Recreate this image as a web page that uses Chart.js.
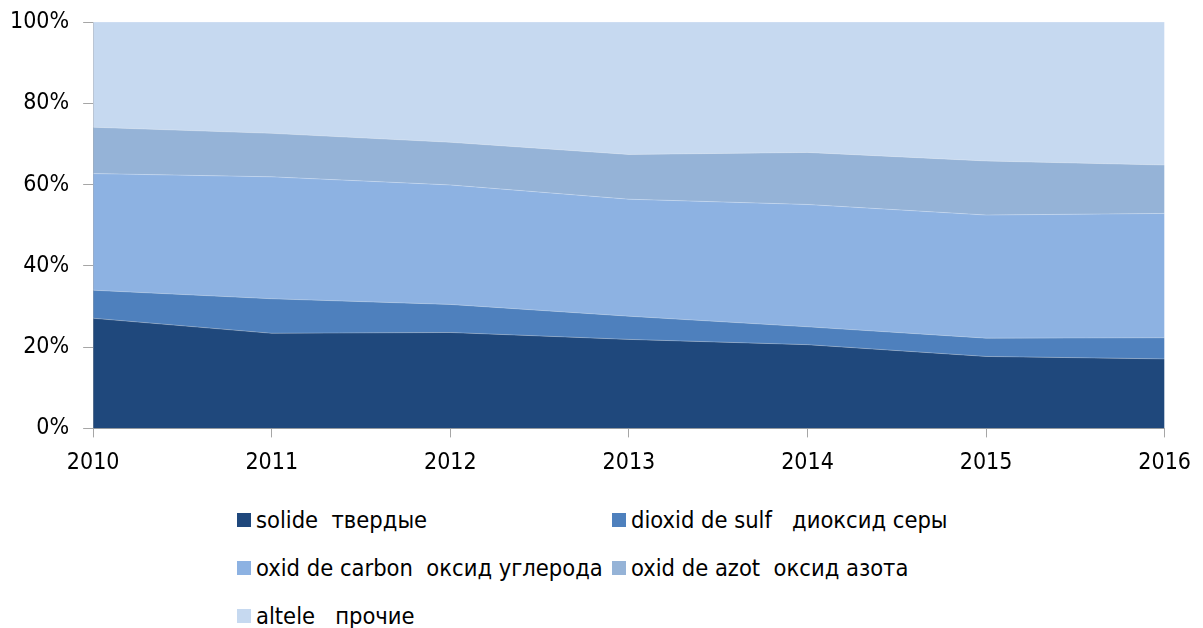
<!DOCTYPE html>
<html>
<head>
<meta charset="utf-8">
<script src="https://cdn.jsdelivr.net/npm/chart.js@4/dist/chart.umd.min.js"></script>
<style>
  html, body { margin:0; padding:0; background:#fff; }
  #wrap { position:relative; width:1203px; height:489px; }
  #legend {
    position:absolute; left:237px; top:506px;
    display:grid; grid-template-columns:375px 375px; row-gap:21px;
    font-family:"Liberation Sans Narrow","DejaVu Sans Condensed",sans-serif;
    font-size:23.5px; color:#000;
  }
  .lg-item { display:flex; align-items:center; height:27px; white-space:pre; }
  .lg-box { width:14px; height:14px; margin-right:5px; }
</style>
</head>
<body>
<div id="wrap"><canvas id="chart"></canvas></div>
<div id="legend"></div>
<script>
// ─── Data ─────────────────────────────────────────────────────────────────────
const YEARS = ['2010','2011','2012','2013','2014','2015','2016'];
const SOLIDE  = [27.1, 23.4, 23.6, 21.9, 20.6, 17.7, 17.1];
const DIOXID  = [ 6.9,  8.5,  6.9,  5.7,  4.4,  4.5,  5.2];
const CARBON  = [28.7, 30.0, 29.4, 28.8, 30.1, 30.3, 30.6];
const AZOT    = [11.4, 10.7, 10.5, 11.0, 12.8, 13.3, 11.9];
const ALTELE  = [25.9, 27.4, 29.6, 32.6, 32.1, 34.2, 35.2];
const Y_TICKS = [0, 20, 40, 60, 80, 100];

const SERIES_LABELS = [
  'solide  твердые',
  'dioxid de sulf   диоксид серы',
  'oxid de carbon  оксид углерода',
  'oxid de azot  оксид азота',
  'altele   прочие'
];
const COLORS = ['#1f487c', '#4e80bd', '#8db2e2', '#95b3d7', '#c6d9f0'];

const FONT = { family:"'Liberation Sans Narrow','DejaVu Sans Condensed',sans-serif", size:23 };
const AXIS_COLOR = '#a6a6a6';

const series = [SOLIDE, DIOXID, CARBON, AZOT, ALTELE];
const datasets = series.map((d, i) => ({
  label: SERIES_LABELS[i],
  data: d,
  backgroundColor: COLORS[i],
  borderColor: 'rgba(255,255,255,0.25)',
  borderWidth: 1,
  pointRadius: 0,
  tension: 0,
  fill: i === 0 ? 'origin' : '-1',
}));

new Chart(document.getElementById('chart').getContext('2d'), {
  type: 'line',
  data: { labels: YEARS, datasets },
  options: {
    responsive: true, maintainAspectRatio: false, animation: false,
    layout: { padding: { left: -4, right: 15, top: 0, bottom: 0 } },
    plugins: { legend: { display:false }, tooltip: { enabled:false } },
    scales: {
      x: {
        offset: false,
        grid: { drawOnChartArea:false, drawTicks:true, tickLength:9, color:AXIS_COLOR },
        border: { color:AXIS_COLOR, width:1 },
        ticks: { color:'#000', font:FONT, padding:12, maxRotation:0 }
      },
      y: {
        stacked: true, min: 0, max: 100,
        afterBuildTicks: ax => { ax.ticks = Y_TICKS.map(v => ({ value:v })); },
        afterFit: ax => { ax.paddingTop = 22; },
        grid: { drawOnChartArea:false, drawTicks:true, tickLength:10, color:AXIS_COLOR },
        border: { color:AXIS_COLOR, width:1 },
        ticks: { color:'#000', font:FONT, padding:14, callback: v => v + '%' }
      }
    }
  }
});

// ─── HTML legend (two columns like the source) ────────────────────────────────
document.getElementById('legend').innerHTML = SERIES_LABELS.map((l, i) => `
  <div class="lg-item"><span class="lg-box" style="background:${COLORS[i]}"></span>${l}</div>`).join('');
</script>
</body>
</html>
